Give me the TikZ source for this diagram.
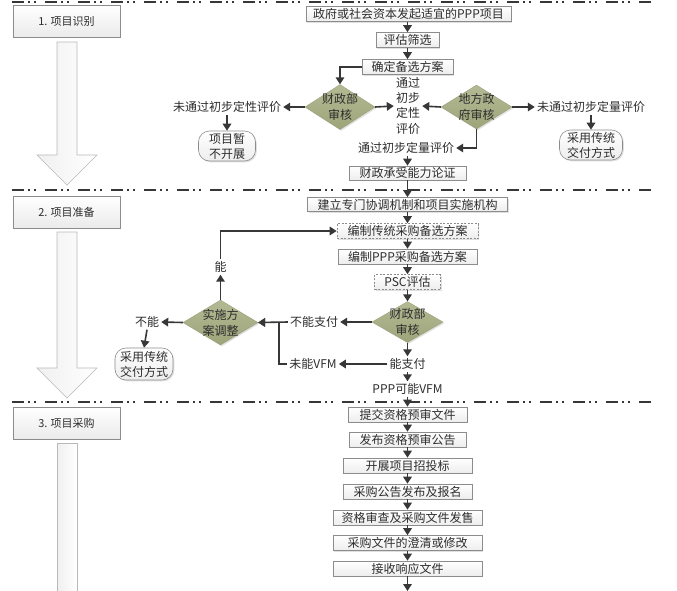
\documentclass[tikz,border=0pt]{standalone}
\usepackage{fontspec}
\setmainfont{Noto Sans CJK SC}
\usetikzlibrary{arrows.meta,shapes.geometric,shadows}
\definecolor{ln}{RGB}{55,55,55}
\definecolor{txt}{RGB}{45,45,45}
\definecolor{olive}{RGB}{166,173,128}
\definecolor{bd}{RGB}{140,140,140}
\begin{document}
\begin{tikzpicture}[x=1pt,y=-1pt,
  every node/.style={text=txt, font=\fontsize{12}{15}\selectfont},
  shd/.style={drop shadow={shadow xshift=1.3pt, shadow yshift=-1.3pt, fill=gray!40, opacity=0.6}},
  box/.style={draw=bd, line width=0.6pt, top color=white, bottom color=gray!14, inner sep=0pt, minimum height=15pt, shd},
  dbox/.style={box, dash pattern=on 2pt off 1.5pt},
  phase/.style={draw=bd, line width=0.6pt, top color=white, bottom color=gray!16, inner sep=0pt, minimum width=107pt, minimum height=32pt, shd, font=\fontsize{11}{13}\selectfont},
  term/.style={draw=bd, line width=0.6pt, rounded corners=11pt, top color=white, bottom color=gray!14, inner sep=0pt, align=center, shd},
  dia/.style={diamond, inner sep=0pt, top color=olive!85!white, bottom color=olive!95!black, draw=olive!90!black, line width=0.3pt, shd},
  dlabel/.style={align=center, font=\fontsize{12}{16}\selectfont},
  plain/.style={inner sep=2pt, align=center},
  arr/.style={draw=ln, line width=1.6pt, -{Triangle[length=7pt,width=8.5pt]}},
  sep/.style={draw=ln, line width=1.8pt, dash pattern=on 12pt off 4pt on 2pt off 4pt on 2pt off 9pt},
  bigarr/.style={draw=gray!55, line width=0.6pt, left color=gray!12, right color=white, shading angle=90}
]
\useasboundingbox (0,0) rectangle (677,590);
\fill[white] (0,0) rectangle (677,590);

% separators
\draw[sep] (12,2) -- (652,2);
\draw[sep] (12,190) -- (652,190);
\draw[sep] (12,402) -- (652,402);

% phase boxes and big arrows
\node[phase] (p1) at (66.5,21) {1. 项目识别};
\node[phase] (p2) at (66.5,212) {2. 项目准备};
\node[phase] (p3) at (66.5,423) {3. 项目采购};
\draw[bigarr] (57,42) -- (77,42) -- (77,155) -- (97,155) -- (67,185) -- (37,155) -- (57,155) -- cycle;
\draw[bigarr] (57,232) -- (77,232) -- (77,368) -- (97,368) -- (67,398) -- (37,368) -- (57,368) -- cycle;
\draw[bigarr] (57,591) -- (57,443) -- (77,443) -- (77,591);

% phase 1
\node[box, minimum width=205pt] (n1) at (408.5,14) {政府或社会资本发起适宜的PPP项目};
\node[box, minimum width=63pt] (n2) at (407.5,40) {评估筛选};
\node[box, minimum width=91pt] (n3) at (407.5,67) {确定备选方案};
\node[dia, minimum width=70pt, minimum height=45pt, label={[dlabel]center:财政部\\审核}] (d1) at (340,107) {};
\node[plain] (t1) at (227,107) {未通过初步定性评价};
\node[term, minimum width=57pt, minimum height=30pt] (r1) at (227,146) {项目暂\\不开展};
\node[plain] (t2) at (408,106) {通过\\初步\\定性\\评价};
\node[dia, minimum width=71pt, minimum height=44pt, label={[dlabel]center:地方政\\府审核}] (d2) at (476.5,107) {};
\node[plain] (t3) at (591,107) {未通过初步定量评价};
\node[term, minimum width=63pt, minimum height=30pt] (r2) at (591,145) {采用传统\\交付方式};
\node[plain] (t4) at (406,148) {通过初步定量评价};
\node[box, minimum width=117pt, minimum height=14pt] (n4) at (407.5,173) {财政承受能力论证};

% phase 2
\node[box, minimum width=200pt, minimum height=14pt] (n5) at (407.5,204.5) {建立专门协调机制和项目实施机构};
\node[dbox, minimum width=141pt] (n6) at (407.5,231) {编制传统采购备选方案};
\node[box, minimum width=139pt] (n7) at (407.5,256.5) {编制PPP采购备选方案};
\node[dbox, minimum width=66pt] (n8) at (407.5,282) {PSC评估};
\node[dia, minimum width=71pt, minimum height=41pt, label={[dlabel]center:财政部\\审核}] (d3) at (407.5,322) {};
\node[plain] (t5) at (314,322) {不能支付};
\node[plain] (t6) at (407.5,364) {能支付};
\node[plain] (t7) at (313,364) {未能VFM};
\node[plain] (t8) at (407.5,389) {PPP可能VFM};
\node[dia, minimum width=75pt, minimum height=45pt, label={[dlabel]center:实施方\\案调整}] (d4) at (220.5,322.5) {};
\node[plain] (t9) at (147,322) {不能};
\node[term, minimum width=58pt, minimum height=32pt] (r3) at (144,364) {采用传统\\交付方式};
\node[plain] (t10) at (220.5,267) {能};

% phase 3
\node[box, minimum width=119pt] (m1) at (407.5,414.5) {提交资格预审文件};
\node[box, minimum width=117pt] (m2) at (407.5,439.5) {发布资格预审公告};
\node[box, minimum width=129pt] (m3) at (407.5,465.5) {开展项目招投标};
\node[box, minimum width=129pt] (m4) at (407.5,491.5) {采购公告发布及报名};
\node[box, minimum width=149pt] (m5) at (407.5,517.5) {资格审查及采购文件发售};
\node[box, minimum width=149pt] (m6) at (407.5,543) {采购文件的澄清或修改};
\node[box, minimum width=149pt] (m7) at (407.5,568.5) {接收响应文件};
\coordinate (bot) at (407.5,591);

% connectors phase 1
\draw[arr] (n1.south -| n2) -- (n2.north);
\draw[arr] (n2) -- (n3);
\draw[arr] (n3.west) -| (d1.north);
\draw[arr] (d1.west) -- (t1.east);
\draw[arr] (t1.south) -- (r1.north);
\draw[arr] (d1.east) -- (t2.west);
\draw[arr] (d2.west) -- (t2.east);
\draw[arr] (d2.east) -- (t3.west);
\draw[arr] (t3.south) -- (r2.north);
\draw[arr] (d2.south) |- (t4.east);
\draw[arr] (t4.south -| n4) -- (n4.north);
\draw[arr] (n4) -- (n5);

% connectors phase 2
\draw[arr] (n5) -- (n6);
\draw[arr] (n6) -- (n7);
\draw[arr] (n7) -- (n8);
\draw[arr] (n8) -- (d3);
\draw[arr] (d3.west) -- (t5.east);
\draw[arr] (d3.south) -- (t6.north);
\draw[arr] (t6.west) -- (t7.east);
\draw[arr] (t6.south) -- (t8.north);
\draw[arr] (t8.south) -- (m1.north);
\draw[arr] (t5.west) -- (d4.east);
\draw[arr] (t7.west) -- ++(-8,0) |- (d4.east);
\draw[arr] (d4.west) -- (t9.east);
\draw[arr] (t9.south) -- (r3.north);
\draw[arr] (d4.north) -- (t10.south);
\draw[arr] (t10.north) |- (n6.west);

% connectors phase 3
\draw[arr] (m1) -- (m2);
\draw[arr] (m2) -- (m3);
\draw[arr] (m3) -- (m4);
\draw[arr] (m4) -- (m5);
\draw[arr] (m5) -- (m6);
\draw[arr] (m6) -- (m7);
\draw[arr] (m7) -- (bot);
\end{tikzpicture}
\end{document}
